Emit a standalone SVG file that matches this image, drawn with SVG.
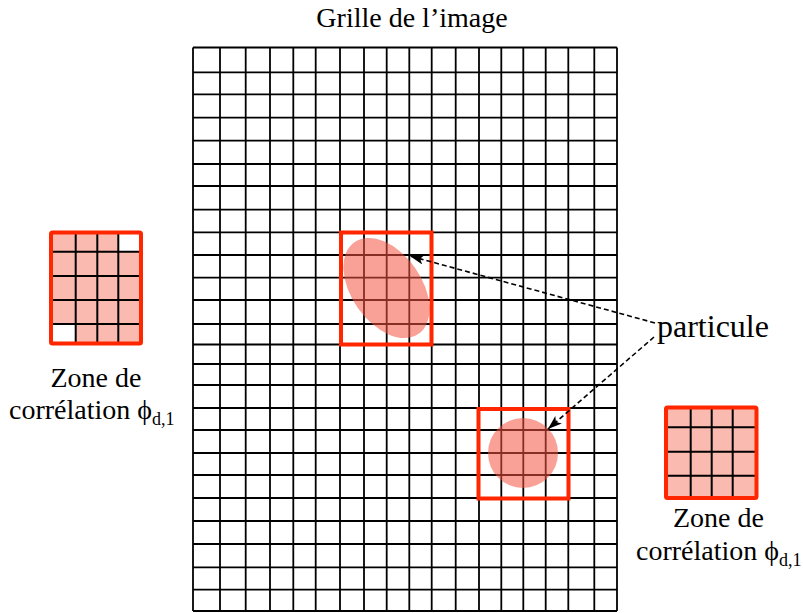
<svg xmlns="http://www.w3.org/2000/svg" width="803" height="613" viewBox="0 0 803 613">
<defs>
<style>
.txt{font-family:"Liberation Serif","Times New Roman",serif;font-size:28px;fill:#000}
.grid line{stroke:#000;stroke-width:1.8}
.zone{stroke:#FF2600;stroke-width:4;fill:none}
.cell{fill:#FBBAB0}
.cellw{fill:#FFFFFF}
.zgrid line{stroke:#000;stroke-width:2}
.particle{fill:#F4543F;fill-opacity:0.55}
.conn{stroke:#000;stroke-width:1.6;stroke-dasharray:5 3;fill:none}
</style>
<marker id="ah" markerUnits="userSpaceOnUse" markerWidth="16" markerHeight="12" refX="14" refY="5" orient="auto">
<path d="M0,0 L14,5 L0,10 L3.5,5 Z" fill="#000"/>
</marker>
</defs>
<rect width="803" height="613" fill="#fff"/>

<text class="txt" x="412" y="27" text-anchor="middle">Grille de l’image</text>

<g id="image-grid" class="grid">
<line x1="193" y1="47.5" x2="193" y2="611"/>
<line x1="220" y1="47.5" x2="220" y2="611"/>
<line x1="245.7" y1="47.5" x2="245.7" y2="611"/>
<line x1="270" y1="47.5" x2="270" y2="611"/>
<line x1="293.3" y1="47.5" x2="293.3" y2="611"/>
<line x1="315.7" y1="47.5" x2="315.7" y2="611"/>
<line x1="340" y1="47.5" x2="340" y2="611"/>
<line x1="364" y1="47.5" x2="364" y2="611"/>
<line x1="386.7" y1="47.5" x2="386.7" y2="611"/>
<line x1="409.3" y1="47.5" x2="409.3" y2="611"/>
<line x1="431.7" y1="47.5" x2="431.7" y2="611"/>
<line x1="455.7" y1="47.5" x2="455.7" y2="611"/>
<line x1="479" y1="47.5" x2="479" y2="611"/>
<line x1="501.3" y1="47.5" x2="501.3" y2="611"/>
<line x1="523.3" y1="47.5" x2="523.3" y2="611"/>
<line x1="545.7" y1="47.5" x2="545.7" y2="611"/>
<line x1="568.3" y1="47.5" x2="568.3" y2="611"/>
<line x1="594.3" y1="47.5" x2="594.3" y2="611"/>
<line x1="617" y1="47.5" x2="617" y2="611"/>
<line x1="193" y1="47.5" x2="617" y2="47.5"/>
<line x1="193" y1="72.3" x2="617" y2="72.3"/>
<line x1="193" y1="94.3" x2="617" y2="94.3"/>
<line x1="193" y1="117.7" x2="617" y2="117.7"/>
<line x1="193" y1="140.7" x2="617" y2="140.7"/>
<line x1="193" y1="164" x2="617" y2="164"/>
<line x1="193" y1="186" x2="617" y2="186"/>
<line x1="193" y1="209.7" x2="617" y2="209.7"/>
<line x1="193" y1="232.3" x2="617" y2="232.3"/>
<line x1="193" y1="255" x2="617" y2="255"/>
<line x1="193" y1="277.7" x2="617" y2="277.7"/>
<line x1="193" y1="300" x2="617" y2="300"/>
<line x1="193" y1="324" x2="617" y2="324"/>
<line x1="193" y1="344.5" x2="617" y2="344.5"/>
<line x1="193" y1="364" x2="617" y2="364"/>
<line x1="193" y1="385" x2="617" y2="385"/>
<line x1="193" y1="408" x2="617" y2="408"/>
<line x1="193" y1="430" x2="617" y2="430"/>
<line x1="193" y1="453" x2="617" y2="453"/>
<line x1="193" y1="475" x2="617" y2="475"/>
<line x1="193" y1="498" x2="617" y2="498"/>
<line x1="193" y1="521" x2="617" y2="521"/>
<line x1="193" y1="544" x2="617" y2="544"/>
<line x1="193" y1="567.3" x2="617" y2="567.3"/>
<line x1="193" y1="589.7" x2="617" y2="589.7"/>
<line x1="193" y1="611" x2="617" y2="611"/>
</g>

<g id="particle-1">
<ellipse class="particle" cx="386.5" cy="288" rx="56" ry="35" transform="rotate(55 386.5 288)"/>
<rect class="zone" x="341" y="232.5" width="90.5" height="112"/>
</g>

<g id="particle-2">
<circle class="particle" cx="523" cy="453" r="35"/>
<rect class="zone" x="478.5" y="409" width="90" height="89.5"/>
</g>

<g id="zone-left">
<rect class="cell" x="51" y="232.5" width="90" height="111"/>
<rect class="cellw" x="118.3" y="232.5" width="22.7" height="19.2"/>
<rect class="cellw" x="51" y="324" width="24.7" height="19.5"/>
<g class="zgrid">
<line x1="75.7" y1="232.5" x2="75.7" y2="343.5"/>
<line x1="97.3" y1="232.5" x2="97.3" y2="343.5"/>
<line x1="118.3" y1="232.5" x2="118.3" y2="343.5"/>
<line x1="51" y1="251.7" x2="141" y2="251.7"/>
<line x1="51" y1="276" x2="141" y2="276"/>
<line x1="51" y1="300" x2="141" y2="300"/>
<line x1="51" y1="324" x2="141" y2="324"/>
</g>
<rect class="zone" x="51" y="232.5" width="90" height="111" rx="1.5"/>
<text class="txt" x="96" y="387" text-anchor="middle">Zone de</text>
<text class="txt" x="9" y="419">corrélation ϕ<tspan font-size="18" dy="6">d,1</tspan></text>
</g>

<g id="zone-right">
<rect class="cell" x="666" y="407.5" width="90.5" height="90.5"/>
<g class="zgrid">
<line x1="690.7" y1="407.5" x2="690.7" y2="498"/>
<line x1="711.7" y1="407.5" x2="711.7" y2="498"/>
<line x1="732.7" y1="407.5" x2="732.7" y2="498"/>
<line x1="666" y1="427.3" x2="756.5" y2="427.3"/>
<line x1="666" y1="451.7" x2="756.5" y2="451.7"/>
<line x1="666" y1="475.7" x2="756.5" y2="475.7"/>
</g>
<rect class="zone" x="666" y="407.5" width="90.5" height="90.5" rx="1.5"/>
<text class="txt" x="718.5" y="527" text-anchor="middle">Zone de</text>
<text class="txt" x="636" y="560">corrélation ϕ<tspan font-size="18" dy="6">d,1</tspan></text>
</g>

<g id="label-particule">
<text class="txt" x="657" y="337" style="font-size:32px">particule</text>
</g>

<g id="connectors">
<line class="conn" x1="655" y1="323" x2="410" y2="256" marker-end="url(#ah)"/>
<line class="conn" x1="654" y1="337" x2="548" y2="429" marker-end="url(#ah)"/>
</g>
</svg>
